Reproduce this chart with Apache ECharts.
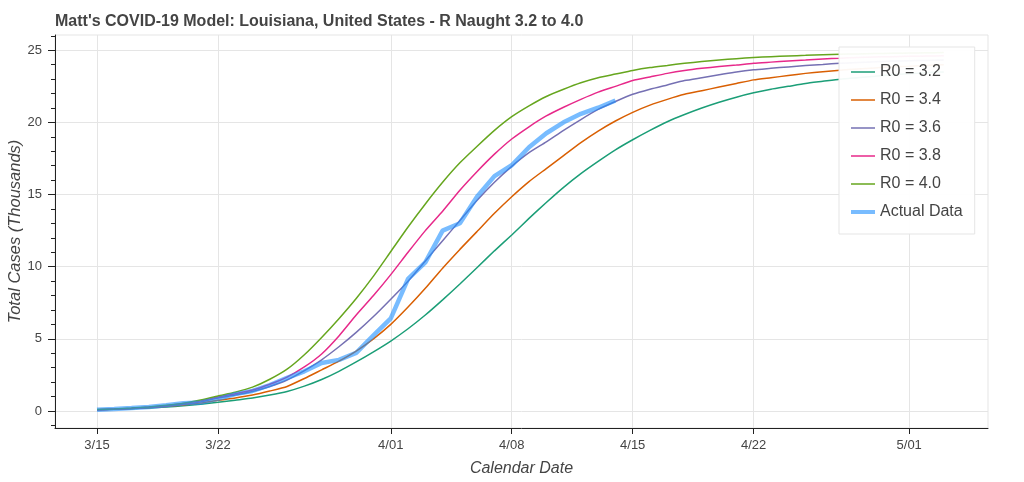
<!DOCTYPE html>
<html>
<head>
<meta charset="utf-8">
<title>Matt's COVID-19 Model: Louisiana</title>
<script src="https://cdn.jsdelivr.net/npm/echarts@6/dist/echarts.min.js"></script>
<style>
  html, body { margin: 0; padding: 0; background: #fff; }
  #chart { width: 1024px; height: 482px; }
</style>
</head>
<body>
<div id="chart"></div>
<script>
// x = days after 3/15, one value per day, cases in thousands
var tickDays = [0, 7, 17, 24, 31, 38, 47];
var tickLabels = ['3/15', '3/22', '4/01', '4/08', '4/15', '4/22', '5/01'];
var yTicks = [0, 5, 10, 15, 20, 25];
var yMinorTicks = [-1, 0, 1, 2, 3, 4, 5, 6, 7, 8, 9, 10, 11, 12, 13, 14, 15, 16, 17, 18, 19, 20, 21, 22, 23, 24, 25, 26];

var seriesNames = ['R0 = 3.2', 'R0 = 3.4', 'R0 = 3.6', 'R0 = 3.8', 'R0 = 4.0', 'Actual Data'];
var colors = ['#1b9e77', '#d95f02', '#7570b3', '#e7298a', '#66a61e', 'rgba(30,144,255,0.6)'];

var r32 = [0.09, 0.12, 0.16, 0.21, 0.28, 0.36, 0.47, 0.6, 0.75, 0.9,
  1.1, 1.35, 1.72, 2.18, 2.75, 3.4, 4.1, 4.85, 5.7, 6.65,
  7.7, 8.8, 9.95, 11.1, 12.2, 13.35, 14.45, 15.5, 16.45, 17.3,
  18.1, 18.8, 19.45, 20.05, 20.55, 21.0, 21.4, 21.75, 22.05, 22.3,
  22.5, 22.7, 22.85, 23.0, 23.1, 23.2, 23.3, 23.38, 23.45, 23.5];
var r34 = [0.09, 0.12, 0.17, 0.23, 0.31, 0.42, 0.55, 0.74, 0.9, 1.1,
  1.38, 1.7, 2.25, 2.85, 3.45, 4.15, 5.0, 6.0, 7.2, 8.5,
  9.9, 11.2, 12.45, 13.7, 14.85, 15.9, 16.8, 17.7, 18.6, 19.4,
  20.1, 20.7, 21.2, 21.6, 21.95, 22.2, 22.45, 22.7, 22.95, 23.1,
  23.25, 23.4, 23.52, 23.62, 23.7, 23.78, 23.85, 23.9, 23.95, 24.0];
var r36 = [0.09, 0.13, 0.18, 0.25, 0.34, 0.46, 0.63, 0.9, 1.1, 1.35,
  1.7, 2.15, 2.8, 3.55, 4.45, 5.45, 6.55, 7.75, 9.0, 10.4,
  11.8, 13.2, 14.6, 15.85, 16.95, 17.9, 18.65, 19.45, 20.2, 20.9,
  21.45, 21.95, 22.3, 22.6, 22.9, 23.1, 23.3, 23.5, 23.65, 23.75,
  23.85, 23.95, 24.02, 24.1, 24.15, 24.2, 24.25, 24.28, 24.3, 24.33];
var r38 = [0.09, 0.13, 0.19, 0.27, 0.37, 0.51, 0.7, 0.97, 1.2, 1.45,
  1.85, 2.35, 3.05, 3.95, 5.2, 6.65, 8.0, 9.45, 11.0, 12.5,
  13.85, 15.3, 16.6, 17.8, 18.85, 19.7, 20.45, 21.05, 21.6, 22.1,
  22.5, 22.9, 23.15, 23.4, 23.6, 23.75, 23.87, 23.98, 24.1, 24.18,
  24.26, 24.33, 24.4, 24.45, 24.5, 24.53, 24.56, 24.58, 24.6, 24.62];
var r40 = [0.1, 0.14, 0.2, 0.28, 0.39, 0.54, 0.76, 1.04, 1.3, 1.65,
  2.2, 2.9, 3.9, 5.1, 6.4, 7.8, 9.35, 11.05, 12.75, 14.35,
  15.85, 17.2, 18.35, 19.45, 20.4, 21.15, 21.8, 22.3, 22.75, 23.1,
  23.35, 23.6, 23.8, 23.95, 24.1, 24.22, 24.32, 24.42, 24.5, 24.56,
  24.61, 24.65, 24.69, 24.72, 24.75, 24.77, 24.79, 24.81, 24.83, 24.84];
var actual = [0.09, 0.14, 0.2, 0.28, 0.39, 0.54, 0.59, 0.84, 1.17, 1.39,
  1.8, 2.3, 2.75, 3.32, 3.54, 4.03, 5.24, 6.42, 9.15, 10.3,
  12.5, 13.01, 14.87, 16.28, 17.03, 18.28, 19.25, 20.01, 20.6, 21.02,
  21.52];

var models = [r32, r34, r36, r38, r40];

function toPoints(arr) {
  return arr.map(function (v, i) { return [i, v]; });
}

var textColor = '#444';
var font = 'Liberation Sans, Arial, Helvetica, sans-serif';

var series = models.map(function (arr, k) {
  return {
    name: seriesNames[k],
    type: 'line',
    data: toPoints(arr),
    symbol: 'none',
    smooth: 0.2,
    lineStyle: { color: colors[k], width: 1.5 },
    itemStyle: { color: colors[k] }
  };
});
series.push({
  name: seriesNames[5],
  type: 'line',
  data: toPoints(actual),
  symbol: 'none',
  lineStyle: { color: colors[5], width: 4.5 },
  itemStyle: { color: colors[5] },
  z: 3
});

// flat bars as legend glyphs; the zero-length moves keep the 24x14 box
var legendData = seriesNames.map(function (name, k) {
  var bar = k < 5 ? 'M0,6.25h24v1.5h-24z' : 'M0,5h24v4h-24z';
  return { name: name, icon: 'path://M0,0L0,0 ' + bar + ' M24,14L24,14' };
});

var chart = echarts.init(document.getElementById('chart'));
chart.setOption({
  animation: false,
  textStyle: { fontFamily: font },
  title: {
    text: "Matt's COVID-19 Model: Louisiana, United States - R Naught 3.2 to 4.0",
    left: 50,
    top: 9,
    textStyle: { fontSize: 16, fontWeight: 'bold', color: textColor, fontFamily: font }
  },
  legend: {
    orient: 'vertical',
    left: 839,
    top: 47,
    data: legendData,
    itemWidth: 24,
    itemHeight: 14,
    itemGap: 12,
    padding: [17, 12, 14, 12],
    backgroundColor: 'rgba(255,255,255,0.95)',
    borderColor: '#e5e5e5',
    borderWidth: 1,
    textStyle: { fontSize: 16, color: textColor, fontFamily: font }
  },
  grid: {
    left: 55, right: 36, top: 35, bottom: 54,
    outerBoundsMode: 'none',
    containLabel: false,
    show: true, borderColor: '#e5e5e5', borderWidth: 1
  },
  xAxis: {
    type: 'value',
    min: -2.43,
    max: 51.56,
    name: 'Calendar Date',
    nameLocation: 'middle',
    nameGap: 33,
    nameMoveOverlap: false,
    nameTextStyle: { fontSize: 16, fontStyle: 'italic', color: textColor, fontFamily: font },
    axisLine: { onZero: false, lineStyle: { color: '#222', width: 1 } },
    axisTick: { customValues: tickDays, length: 6, lineStyle: { color: '#222' } },
    axisLabel: {
      customValues: tickDays,
      margin: 11,
      fontSize: 13,
      color: textColor,
      formatter: function (v) { return tickLabels[tickDays.indexOf(Math.round(v))]; }
    },
    splitLine: { show: true, lineStyle: { color: '#e5e5e5', width: 1 } }
  },
  yAxis: [{
    type: 'value',
    min: -1.18,
    max: 26.06,
    position: 'left',
    name: 'Total Cases (Thousands)',
    nameLocation: 'middle',
    nameGap: 31,
    nameMoveOverlap: false,
    nameTextStyle: { fontSize: 16.5, fontStyle: 'italic', color: textColor, fontFamily: font },
    axisLine: { show: true, onZero: false, lineStyle: { color: '#222', width: 1 } },
    axisTick: { customValues: yTicks, length: 7, lineStyle: { color: '#222' } },
    axisLabel: { customValues: yTicks, margin: 13, fontSize: 13, color: textColor },
    splitLine: { show: true, lineStyle: { color: '#e5e5e5', width: 1 } }
  }, {
    type: 'value',
    min: -1.18,
    max: 26.06,
    position: 'left',
    axisLine: { show: false, onZero: false },
    axisTick: { show: true, customValues: yMinorTicks, length: 4, lineStyle: { color: '#222' } },
    axisLabel: { show: false },
    splitLine: { show: false }
  }],
  series: series
});
</script>
</body>
</html>
